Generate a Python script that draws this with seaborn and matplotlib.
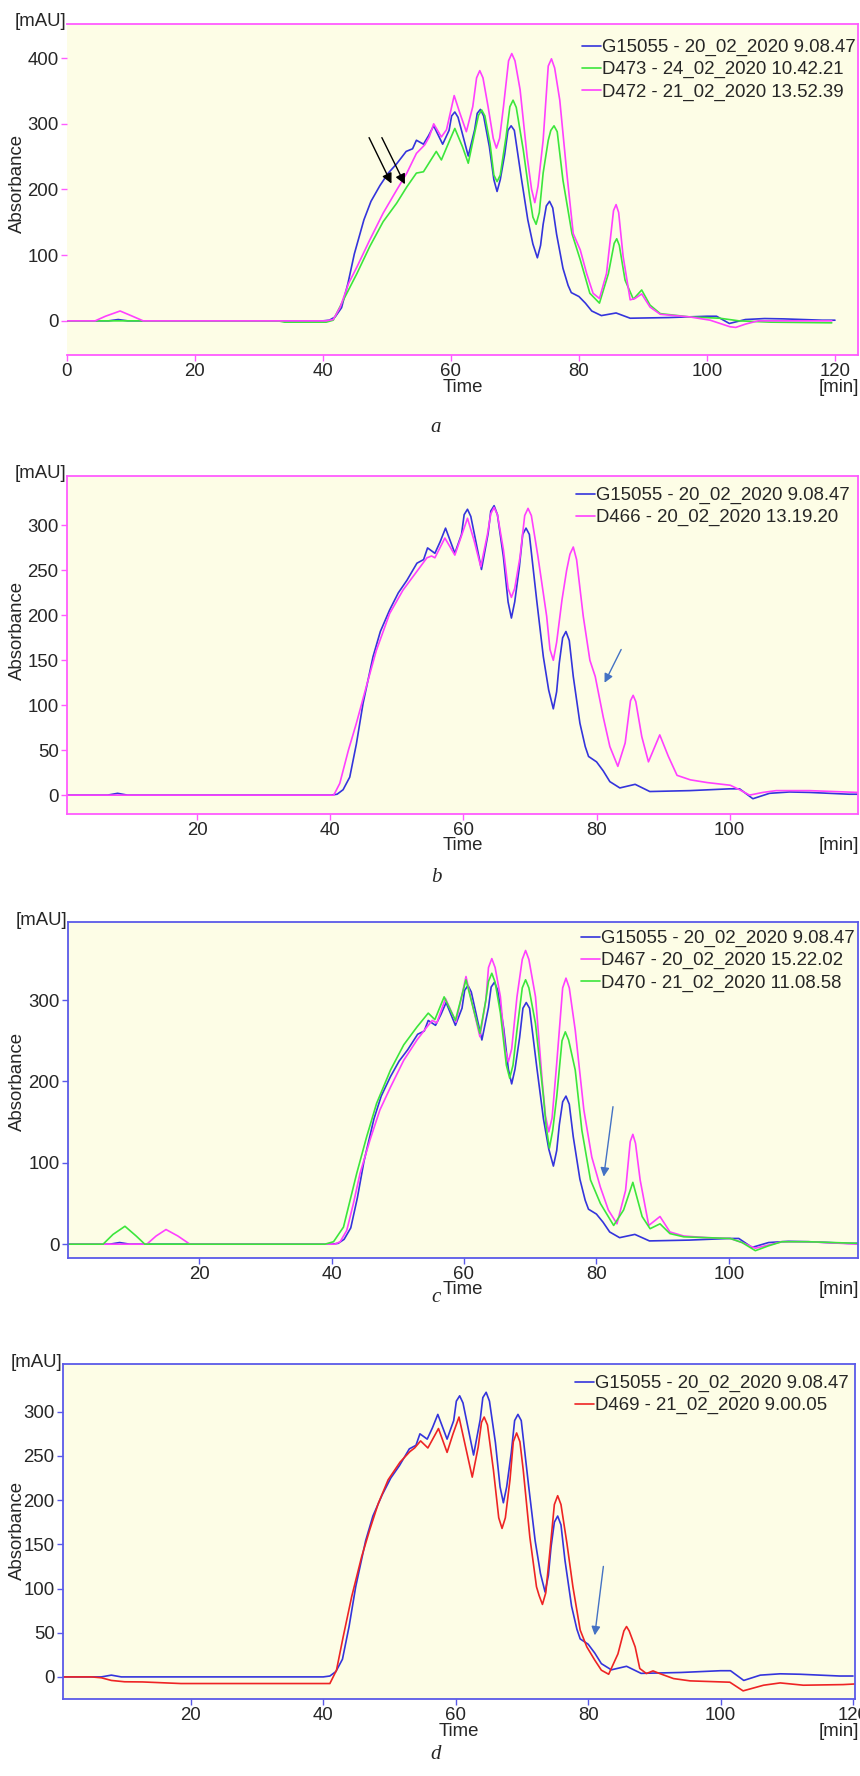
import matplotlib
matplotlib.use("Agg")
import matplotlib.pyplot as plt
import pandas as pd
import seaborn as sns

sns.set_style("white")
plt.rcParams["font.family"] = ["Liberation Sans", "DejaVu Sans"]

# ---------------- data (time in min, absorbance in mAU) ----------------
ref_label = "G15055 - 20_02_2020 9.08.47"
ref_t = [0, 6.5, 8, 9.5, 40, 41, 41.9, 42.9, 43.9, 44.9, 46.4, 47.5, 48.9, 50.2, 51.5,
         53, 54, 54.6, 55.7, 56.5, 57.3, 58.7, 59.7, 60.1, 60.6, 61.1, 61.7, 62.7, 63.7, 64.1,
         64.6, 65.1, 66, 66.7, 67.2, 67.7,
         68.4, 68.9, 69.4, 69.9, 71, 72, 72.8, 73.5, 74.0, 74.4, 74.9, 75.4, 75.9, 76.5, 77.5,
         78.3, 78.8, 80, 81, 82,
         83.5, 85.8, 88, 94, 100, 101.5, 103.5, 106, 109, 112, 118, 120]
ref_v = [0, 0, 2, 0, 0, 1, 6, 20, 57, 102, 154, 182, 206, 225, 239,
         258, 262, 275, 269, 282, 297, 269, 290, 312, 318, 310, 288, 251, 291, 316,
         322, 312, 265, 215, 197, 215,
         254, 290, 297, 290, 217, 154, 117, 96, 115, 147, 175, 182, 172, 132, 80,
         54, 43, 37, 27, 15,
         8, 12, 4, 5, 7, 7, -4, 2, 3.5, 3, 1, 1]

d473_label = "D473 - 24_02_2020 10.42.21"
d473_t = [0, 33, 34, 40.5, 41.6, 43.2, 45.3, 47.3, 49.4, 51.5, 53.1, 54.6, 55.7, 57.7, 58.5,
          59.8, 60.6, 61.8, 62.7, 63.7, 64.3, 64.8, 65.3, 66.1, 66.7, 67.2, 67.7, 68.6, 69.2,
          69.7, 70.2, 71.3, 72.3, 72.8, 73.3, 73.8, 74.4, 75.2, 75.6,
          76.1, 76.6, 77.5, 78.9, 80.2, 81.7, 83.2, 84.6, 85.5, 85.9, 86.3, 87.2, 88.5, 89.8,
          91.1, 92.7, 97.3, 102,
          105, 110, 119.5]
d473_v = [0, 0, -2, -2, 1, 32, 72, 113, 151, 179, 204, 225, 227, 258, 245,
          275, 293, 265, 240, 286, 313, 321, 312, 270, 222, 212, 222, 280, 326,
          336, 325, 260, 189, 158, 147, 165, 225, 275, 290,
          297, 288, 214, 133, 93, 42, 27, 72, 118, 125, 115, 62, 33, 47,
          24, 11, 6, 4,
          0, -2, -3]

d472_label = "D472 - 21_02_2020 13.52.39"
d472_t = [0, 4.4, 6, 8.3, 10, 11.9, 40.5, 41.6, 42.7, 44.0, 45.3, 47.3, 49.4, 51.5, 53.1,
          54.6, 55.9, 56.6, 57.3, 58.5, 59.3, 60.5, 61.4, 62.4, 63.4, 64.0, 64.5, 65.0, 65.8,
          66.6, 67.1, 67.6, 68.2, 69.0, 69.5, 70.0,
          70.8, 71.9, 72.6, 73.1, 73.6, 74.4, 75.2, 75.7, 76.2, 77.0, 78.1, 79.1, 80.2, 81.2,
          82.2, 83.2, 84.3, 85.4, 85.8, 86.2, 86.9,
          88.0, 88.75, 89.8, 91.1, 92.7, 97.3, 100.5, 103.6, 104.5, 106, 108, 119.5]
d472_v = [0, 0, 7, 15, 8, 0, 0, 2, 21, 57, 82, 123, 164, 199, 225,
          255, 268, 280, 300, 280, 291, 343, 316, 288, 326, 370, 381, 370, 326,
          278, 263, 278, 326, 396, 407, 396,
          352, 250, 200, 180, 205, 275, 388, 399, 385, 336, 225, 133, 108, 72,
          42, 34, 72, 168, 177, 165, 98,
          32, 34, 41, 21, 10, 6, 1, -9, -10, -5, 0, 0]

d466_label = "D466 - 20_02_2020 13.19.20"
d466_t = [0, 40.5, 41.4, 42.7, 43.9, 45.4, 46.9, 48.9, 50.9, 53.0, 54.5, 55.2, 55.7, 57.2, 58.7,
          60.6, 61.6, 62.6, 63.6, 64.1, 64.6, 65.1, 66.0, 66.7, 67.2, 67.7, 68.5, 69.2, 69.7,
          70.2, 71.2, 72.5, 73.0, 73.5, 74.0, 74.8, 75.5, 76.0, 76.5,
          77.0, 77.3, 78.0, 79.0, 79.8, 81.0, 82.0, 83.2, 84.3, 85.1, 85.5, 85.9, 86.8, 87.8,
          89.5, 90.8, 92.1, 94.1,
          96.6, 100.1, 101.5, 103, 105, 107, 112, 119.3]
d466_v = [0, 0, 13, 50, 80, 121, 161, 202, 228, 249, 264, 266, 264, 286, 267,
          308, 283, 254, 290, 313, 320, 312, 273, 230, 220, 230, 265, 311, 319,
          311, 265, 199, 162, 150, 170, 217, 250, 268, 276,
          262, 243, 199, 150, 132, 87, 54, 32, 58, 105, 111, 104, 65, 37,
          67, 43, 22, 17,
          14, 11, 6, 0, 3, 5, 5, 3]

d467_label = "D467 - 20_02_2020 15.22.02"
d467_t = [0, 12.1, 13.5, 15.0, 16.8, 18.6, 40.5, 41.3, 42.3, 43.3, 44.3, 45.8, 47.3, 48.9, 50.9,
          52.9, 54.4, 55.2, 55.9, 57.2, 58.8, 60.3, 61.4, 62.4, 63.3, 63.7, 64.2, 64.7, 65.5,
          66.2, 66.7, 67.2, 68.0, 68.8, 69.3, 69.8,
          70.8, 71.8, 72.3, 72.8, 73.3, 74.0, 74.9, 75.4, 75.9, 76.8, 78.1, 79.3, 80.6, 81.8,
          83.1, 84.4, 85.1, 85.5, 85.9, 86.6, 87.9,
          89.6, 91.1, 93.2, 96.7, 100.2, 102, 104, 106, 108, 112, 119.5]
d467_v = [0, 0, 10, 18, 10, 0, 0, 3, 17, 50, 87, 128, 165, 193, 226,
          251, 267, 275, 272, 302, 273, 329, 290, 255, 300, 340, 351, 340, 304,
          240, 224, 240, 304, 350, 361, 350,
          304, 202, 158, 138, 155, 222, 315, 327, 315, 263, 165, 107, 70, 42,
          25, 66, 126, 135, 124, 79, 23,
          34, 15, 10, 8, 7, 2, -5, -1, 3, 3, 0]

d470_label = "D470 - 21_02_2020 11.08.58"
d470_t = [0, 5.5, 7, 8.8, 10.5, 11.8, 39, 40.3, 41.8, 42.8, 43.8, 45.3, 46.8, 48.9, 50.9,
          52.9, 54.6, 55.6, 57.0, 58.7, 59.5, 60.3, 61.4, 62.4, 63.3, 63.7, 64.2, 64.7, 65.5,
          66.4, 66.9, 67.4, 68.0, 68.8, 69.3, 69.8,
          70.8, 72.0, 72.4, 72.9, 73.4, 74.0, 74.8, 75.3, 75.8, 76.8, 77.8, 79.1, 80.6, 82.6,
          84.1, 85.5, 86.9, 88.1, 89.6,
          91.1, 93.2, 100.2, 102, 104, 106, 108, 112, 119.5]
d470_v = [0, 0, 12, 22, 10, 0, 0, 3, 21, 54, 87, 132, 173, 214, 245,
          267, 284, 276, 304, 275, 300, 325, 290, 259, 300, 323, 333, 322, 284,
          220, 204, 220, 263, 315, 325, 315,
          271, 181, 145, 118, 140, 181, 250, 261, 251, 214, 140, 79, 50, 23,
          42, 76, 34, 19, 25,
          13, 9, 7, 2, -8, -2, 3, 3, 1]

d469_label = "D469 - 21_02_2020 9.00.05"
d469_t = [0, 5, 6.5, 8, 10, 12.7, 18.5, 41.0, 42.0, 43.0, 44.3, 45.8, 47.0, 48.3, 49.8,
          51.6, 53.1, 53.8, 54.7, 55.8, 57.4, 58.7, 59.6, 60.5, 61.5, 62.5, 63.4, 63.9, 64.3,
          64.8, 65.7, 66.5, 67.0, 67.5,
          68.2, 68.7, 69.2, 69.7, 70.2, 71.2, 72.2, 72.6, 73.1, 73.6, 74.2, 74.9, 75.4, 75.9,
          76.8, 77.7, 78.8, 79.8, 81.0, 82.0, 83.1,
          84.5, 85.4, 85.8, 86.2, 87.1, 87.8, 88.8, 89.8, 90.8, 92.9, 95.4, 101.4, 103.4, 106.5,
          109, 112.5, 118.5, 120.3]
d469_v = [0, 0, -1, -4, -5.5, -5.7, -7.5, -7.5, 7.6, 45, 91, 136, 166, 196, 223,
          243, 255, 259, 267, 259, 281, 254, 275, 294, 260, 226, 260, 288, 294,
          285, 234, 180, 168, 180,
          223, 266, 276, 266, 234, 158, 102, 92, 82, 95, 140, 195, 205, 195,
          151, 102, 53, 34, 19, 7.6, 3,
          26, 52, 57, 52, 34, 9.5, 3.8, 6.8, 3.8, -1.9, -4.5, -6, -15.8, -9.4,
          -6.8, -9.4, -8.7, -8]

# ---------------- styling ----------------
BLUE = "#3434dc"
MAGENTA = "#ff40ff"
GREEN = "#3ce63c"
RED = "#ee2424"
FRAME_MAGENTA = "#ff5cff"
FRAME_BLUE = "#5a5ae8"
ARROW_BLUE = "#4472c4"
PLOT_BG = "#fdfde6"
FS = 13.4

W, H = 860, 1776
fig = plt.figure(figsize=(W / 100, H / 100), dpi=100)


def axes_px(left, top, right, bottom):
    return fig.add_axes([left / W, 1 - bottom / H, (right - left) / W, (bottom - top) / H])


def series_frame(t, v, name):
    return pd.DataFrame({"Time": t, "Absorbance": v, "sample": name})


def draw_panel(box, series, xlim, ylim, xticks, yticks, frame, left_spine,
               legend_px, ylabel_y, arrows, letter, letter_y):
    left, top, right, bottom = box
    ax = axes_px(*box)
    ax.set_facecolor(PLOT_BG)
    for t, v, name, col in series:
        sns.lineplot(data=series_frame(t, v, name), x="Time", y="Absorbance",
                     ax=ax, color=col, lw=1.2, estimator=None, sort=False,
                     label=name, legend=False)
    ax.set_xlim(*xlim)
    ax.set_ylim(*ylim)
    ax.set_xticks(xticks)
    ax.set_yticks(yticks)
    ax.tick_params(axis="both", which="major", direction="out", length=4,
                   width=1.0, color=frame, labelsize=FS, pad=2,
                   bottom=True, left=True, top=False, right=False)
    for sp in ax.spines.values():
        sp.set_color(frame)
        sp.set_linewidth(1.3)
    ax.spines["left"].set_visible(left_spine)
    ax.grid(False)

    # axis titles
    ax.set_xlabel("")
    ax.set_ylabel("Absorbance", fontsize=FS)
    ax.yaxis.set_label_coords((26 - left) / (right - left),
                              (bottom - ylabel_y) / (bottom - top))
    fig.text((left + right) / 2 / W, 1 - (bottom + 32) / H, "Time",
             ha="center", va="center", fontsize=FS)
    fig.text(859 / W, 1 - (bottom + 32) / H, "[min]",
             ha="right", va="center", fontsize=FS)
    fig.text((left - 1) / W, 1 - (top - 2) / H, "[mAU]",
             ha="right", va="center", fontsize=FS)

    # legend
    lx, ly = legend_px
    ax.legend(loc="upper left", bbox_to_anchor=(lx / W, 1 - (ly - 8) / H),
              bbox_transform=fig.transFigure, frameon=False, fontsize=FS,
              handlelength=1.0, handletextpad=0.08, labelspacing=0.27,
              borderpad=0, borderaxespad=0)

    # annotation arrows
    for (x0, y0, x1, y1, col, ms) in arrows:
        ax.annotate("", xy=(x1, y1), xytext=(x0, y0),
                    arrowprops=dict(arrowstyle="-|>", color=col, lw=1.0,
                                    mutation_scale=ms, shrinkA=0, shrinkB=0))

    fig.text(436 / W, 1 - letter_y / H, letter, ha="center", va="center",
             fontsize=15, family="Liberation Serif", style="italic")
    return ax


# panel a
draw_panel((67, 24, 858, 355),
           [(ref_t, ref_v, ref_label, BLUE),
            (d473_t, d473_v, d473_label, GREEN),
            (d472_t, d472_v, d472_label, MAGENTA)],
           (0, 123.6), (-52, 452), [0, 20, 40, 60, 80, 100, 120], [0, 100, 200, 300, 400],
           FRAME_MAGENTA, False, (582, 47), 183,
           [(47.2, 279, 50.7, 209, "black", 15), (49.2, 279, 52.8, 208, "black", 15)],
           "a", 428)

# panel b
draw_panel((67, 476, 858, 814),
           [(ref_t, ref_v, ref_label, BLUE),
            (d466_t, d466_v, d466_label, MAGENTA)],
           (0.4, 119.3), (-21, 355), [20, 40, 60, 80, 100], [0, 50, 100, 150, 200, 250, 300],
           FRAME_MAGENTA, True, (576, 495), 630,
           [(83.7, 162, 81.2, 125, ARROW_BLUE, 13)],
           "b", 877)

# panel c
draw_panel((68, 922, 858, 1258),
           [(ref_t, ref_v, ref_label, BLUE),
            (d467_t, d467_v, d467_label, MAGENTA),
            (d470_t, d470_v, d470_label, GREEN)],
           (0.2, 119.5), (-17, 396), [20, 40, 60, 80, 100], [0, 100, 200, 300],
           FRAME_BLUE, True, (581, 938), 1081,
           [(82.5, 169, 81.1, 83, ARROW_BLUE, 13)],
           "c", 1297)

# panel d
draw_panel((63, 1364, 855, 1699),
           [(ref_t, ref_v, ref_label, BLUE),
            (d469_t, d469_v, d469_label, RED)],
           (0.7, 120.3), (-25, 354), [20, 40, 60, 80, 100, 120], [0, 50, 100, 150, 200, 250, 300],
           FRAME_BLUE, True, (575, 1383), 1530,
           [(82.3, 125, 81.0, 47, ARROW_BLUE, 13)],
           "d", 1754)

fig.savefig("out.png", dpi=100, facecolor="white")
